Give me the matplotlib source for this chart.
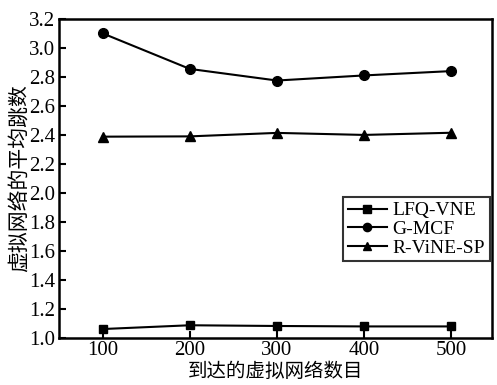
import matplotlib
matplotlib.use("Agg")
import matplotlib.pyplot as plt

x_vals = [100, 200, 300, 400, 500]
lfq_vne = [1.062, 1.088, 1.083, 1.080, 1.080]
g_mcf = [3.10, 2.855, 2.775, 2.81, 2.84]
r_vine_sp = [2.388, 2.390, 2.414, 2.400, 2.415]
series_names = ["LFQ-VNE", "G-MCF", "R-ViNE-SP"]
y_ticks = [1.0, 1.2, 1.4, 1.6, 1.8, 2.0, 2.2, 2.4, 2.6, 2.8, 3.0, 3.2]
xlabel = "到达的虚拟网络数目"
ylabel = "虚拟网络的平均跳数"

serif = ["Liberation Serif", "DejaVu Serif"]
cjk = ["Noto Sans CJK SC", "DejaVu Sans"]

fig = plt.figure(figsize=(4.97, 3.85), dpi=100)
ax = fig.add_axes([0.119, 0.122, 0.871, 0.829])

ax.plot(x_vals, lfq_vne, color="black", lw=1.5, marker="s", ms=6, label=series_names[0])
ax.plot(x_vals, g_mcf, color="black", lw=1.5, marker="o", ms=7, label=series_names[1])
ax.plot(x_vals, r_vine_sp, color="black", lw=1.5, marker="^", ms=7.5, label=series_names[2])

ax.set_xlim(50, 547)
ax.set_ylim(1.0, 3.2)
ax.set_xticks(x_vals)
ax.set_yticks(y_ticks)
ax.set_yticklabels([f"{v:.1f}" for v in y_ticks])
ax.tick_params(direction="in", length=5, width=1.5, labelsize=15, pad=3)
ax.tick_params(axis="x", pad=2)
for lab in ax.get_xticklabels() + ax.get_yticklabels():
    lab.set_family(serif)
for sp in ax.spines.values():
    sp.set_linewidth(1.8)

ax.set_xlabel(xlabel, family=cjk, fontsize=14, labelpad=0.5)
ax.set_ylabel(ylabel, family=cjk, fontsize=15, labelpad=-1)

leg = ax.legend(loc="upper right", bbox_to_anchor=(0.995, 0.442), borderaxespad=0,
                prop={"family": serif, "size": 14}, frameon=True, fancybox=False,
                edgecolor="black", handlelength=2.0, handletextpad=0.3,
                labelspacing=0.05, borderpad=0.25, markerscale=0.85)
leg.get_frame().set_linewidth(1.5)

fig.savefig("out.png", dpi=100)
